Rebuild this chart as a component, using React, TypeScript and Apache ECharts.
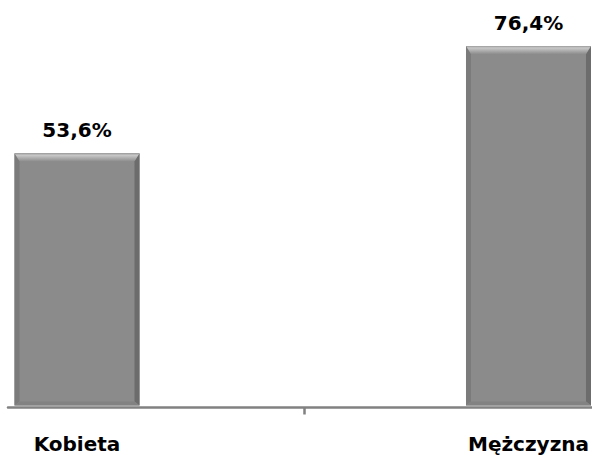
import React, { useEffect, useRef } from "react";
import * as echarts from "echarts";

const categories = ["Kobieta", "Mężczyzna"];
const values = [53.6, 76.4];

export default function App() {
  const ref = useRef<HTMLDivElement>(null);
  useEffect(() => {
    if (!ref.current) return;
    const chart = echarts.init(ref.current, null, { renderer: "svg" });
    const barW = 125;
    chart.setOption({
      animation: false,
      backgroundColor: "#ffffff",
      grid: [
        { left: 8, right: 0, top: 29, bottom: 47.5 },
        { left: 77, right: 63.5, top: 29, bottom: 49.5 },
      ],
      xAxis: [
        {
          gridIndex: 0,
          type: "value",
          min: 0,
          max: 1.973,
          axisLine: { show: true, lineStyle: { color: "#818181", width: 2.5 } },
          axisTick: { show: true, customValues: [1], length: 7, lineStyle: { color: "#818181", width: 2.5 } },
          axisLabel: { show: false },
          splitLine: { show: false },
        },
        {
          gridIndex: 1,
          type: "category",
          data: categories,
          boundaryGap: false,
          axisLine: { show: false },
          axisTick: { show: false },
          axisLabel: {
            margin: 28,
            color: "#000",
            fontFamily: "DejaVu Sans",
            fontWeight: "bold",
            fontSize: 20,
          },
        },
      ],
      yAxis: [
        { gridIndex: 0, type: "value", min: 0, max: 80, show: false },
        { gridIndex: 1, type: "value", min: 0, max: 80, show: false },
      ],
      series: [
        {
          type: "bar",
          xAxisIndex: 1,
          yAxisIndex: 1,
          data: values,
          barWidth: barW,
          itemStyle: { color: "#8b8b8b" },
          label: {
            show: true,
            position: "top",
            distance: 13,
            color: "#000",
            fontFamily: "DejaVu Sans",
            fontWeight: "bold",
            fontSize: 20,
            formatter: (p: any) => p.value.toFixed(1).replace(".", ",") + "%",
          },
          z: 2,
        },
        {
          type: "custom",
          xAxisIndex: 1,
          yAxisIndex: 1,
          silent: true,
          z: 3,
          data: categories.map((c, i) => [i, values[i]]),
          encode: { x: 0, y: 1 },
          renderItem: (params: any, api: any) => {
            const idx = api.value(0);
            const val = api.value(1);
            const top = api.coord([idx, val]);
            const base = api.coord([idx, 0]);
            const x0 = top[0] - barW / 2;
            const x1 = x0 + barW;
            const y0 = top[1];
            const y1 = base[1];
            const b = 5;
            const tb = 8;
            const bb = 4;
            return {
              type: "group",
              children: [
                {
                  type: "polygon",
                  shape: { points: [[x0, y0], [x0 + b, y0 + tb], [x0 + b, y1 - bb], [x0, y1]] },
                  style: { fill: "#7b7b7b" },
                },
                {
                  type: "polygon",
                  shape: { points: [[x1, y0], [x1, y1], [x1 - b, y1 - bb], [x1 - b, y0 + tb]] },
                  style: { fill: "#6c6c6c" },
                },
                {
                  type: "polygon",
                  shape: { points: [[x0, y1], [x1, y1], [x1 - b, y1 - bb], [x0 + b, y1 - bb]] },
                  style: { fill: "#828282" },
                },
                {
                  type: "polygon",
                  shape: { points: [[x0, y0], [x1, y0], [x1 - b, y0 + tb], [x0 + b, y0 + tb]] },
                  style: {
                    fill: new echarts.graphic.LinearGradient(0, 0, 0, 1, [
                      { offset: 0, color: "#9a9a9a" },
                      { offset: 0.25, color: "#c8c8c8" },
                      { offset: 1, color: "#8e8e8e" },
                    ]),
                  },
                },
              ],
            };
          },
        },
      ],
    });
    return () => chart.dispose();
  }, []);
  return (
    <div
      ref={ref}
      style={{ position: "fixed", left: 0, top: 0, width: 592, height: 455 }}
    />
  );
}
